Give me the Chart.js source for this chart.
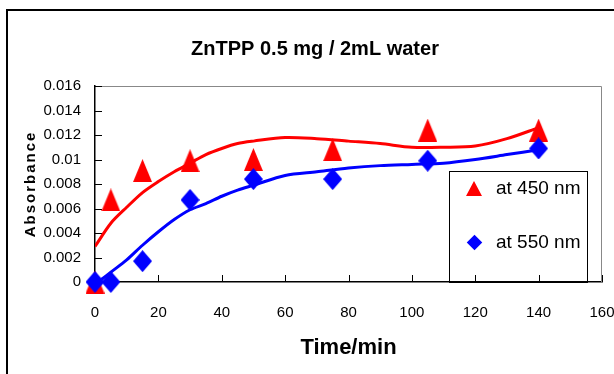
<!DOCTYPE html>
<html lang="en">
<head>
    <meta charset="UTF-8" />
    <title>ZnTPP 0.5 mg / 2mL water</title>
    <script src="https://cdn.jsdelivr.net/npm/chart.js"></script>
    <style>
        body { margin: 0; background: #fff; }
        .wrap { position: relative; width: 614px; height: 374px; overflow: hidden; }
        .frame { position: absolute; left: 6px; top: 9px; width: 700px; height: 500px; border: 2px solid #000; }
        canvas { position: absolute; left: 0; top: 0; }
        .legend { position: absolute; left: 449px; top: 171px; width: 137px; height: 110px; border: 1px solid #000;
                  font: 19px 'Liberation Sans', Arial, sans-serif; color: #000; }
        .legend span { position: absolute; left: 46px; line-height: 22px; white-space: nowrap; }
        .tri { position: absolute; left: 16px; top: 9px; width: 0; height: 0;
               border-left: 8px solid transparent; border-right: 8px solid transparent; border-bottom: 15px solid #ff0000; }
        .dia { position: absolute; left: 19px; top: 65px; width: 11px; height: 11px; background: #0000ff; transform: rotate(45deg); }
    </style>
</head>
<body>
<div class="wrap">
    <div class="frame"></div>
    <canvas id="chart" width="614" height="374"></canvas>
    <!-- legend box sits inside the plot, like the Excel original -->
    <div class="legend">
        <div class="tri"></div><span style="top:5px">at 450 nm</span>
        <div class="dia"></div><span style="top:59px">at 550 nm</span>
    </div>
</div>
<script>
    // measured points
    const timeMin = [0, 5, 15, 30, 50, 75, 105, 140];
    const abs450 = [0, 0.0067, 0.0091, 0.0099, 0.0100, 0.0108, 0.0124, 0.0124];
    const abs550 = [0, 0, 0.0017, 0.0067, 0.0084, 0.0084, 0.0099, 0.0109];

    // trend lines
    const fitTime450 = [0, 5, 10, 15, 20, 25, 30, 35, 40, 45, 50, 60, 70, 80, 90, 100, 110, 120, 130, 140];
    const fit450 = [0.0029, 0.0048, 0.0061, 0.0073, 0.0082, 0.0090, 0.0097, 0.0104, 0.0109, 0.0113, 0.0115,
                    0.0118, 0.0117, 0.0115, 0.0113, 0.0110, 0.0110, 0.0111, 0.0117, 0.0126];
    const fitTime550 = [2, 5, 10, 15, 20, 25, 30, 35, 40, 45, 50, 60, 70, 80, 90, 100, 110, 120, 130, 140];
    const fit550 = [0.0002, 0.0008, 0.0018, 0.0030, 0.0041, 0.0051, 0.0059, 0.0064, 0.0070, 0.0075, 0.0079,
                    0.0087, 0.0090, 0.0093, 0.0095, 0.0096, 0.0097, 0.0100, 0.0104, 0.0108];

    const yTickLabels = ['0', '0.002', '0.004', '0.006', '0.008', '0.01', '0.012', '0.014', '0.016'];

    const pairs = (xs, ys) => xs.map((x, i) => ({ x: x, y: ys[i] }));

    // Excel style markers are a bit taller than wide
    function makeMarker(kind, color, w, h) {
        const c = document.createElement('canvas');
        c.width = w; c.height = h;
        const g = c.getContext('2d');
        g.fillStyle = color;
        g.beginPath();
        if (kind === 'triangle') {
            g.moveTo(w / 2, 0); g.lineTo(w, h); g.lineTo(0, h);
        } else {
            g.moveTo(w / 2, 0); g.lineTo(w, h / 2); g.lineTo(w / 2, h); g.lineTo(0, h / 2);
        }
        g.closePath();
        g.fill();
        return c;
    }

    // gray top/right frame of the plot and small inward tick marks
    const plotDecor = {
        id: 'plotDecor',
        beforeDatasetsDraw(chart) {
            const { ctx, chartArea: a, scales } = chart;
            ctx.save();
            ctx.strokeStyle = '#888';
            ctx.lineWidth = 1;
            ctx.beginPath();
            ctx.moveTo(a.left, a.top + 0.5);
            ctx.lineTo(a.right - 0.5, a.top + 0.5);
            ctx.lineTo(a.right - 0.5, a.bottom);
            ctx.stroke();
            ctx.strokeStyle = '#000';
            ctx.beginPath();
            scales.x.ticks.forEach(t => {
                const px = Math.round(scales.x.getPixelForValue(t.value)) + 0.5;
                ctx.moveTo(px, a.bottom);
                ctx.lineTo(px, a.bottom - 7);
            });
            scales.y.ticks.forEach(t => {
                const py = Math.round(scales.y.getPixelForValue(t.value)) + 0.5;
                ctx.moveTo(a.left, py);
                ctx.lineTo(a.left + 7, py);
            });
            ctx.stroke();
            ctx.restore();
        },
        afterLayout(chart) {
            // spaced-out axis title
            const s = chart.scales.y;
            if (s._spaced) return;
            const orig = s.drawTitle.bind(s);
            s.drawTitle = function () {
                const c = this.ctx;
                c.save();
                c.letterSpacing = '2px';
                orig();
                c.restore();
            };
            s._spaced = true;
        }
    };

    Chart.defaults.font.family = "'Liberation Sans', Arial, sans-serif";
    Chart.defaults.color = '#000';

    new Chart(document.getElementById('chart'), {
        type: 'scatter',
        data: {
            datasets: [
                {
                    label: 'at 450 nm',
                    data: pairs(timeMin, abs450),
                    pointStyle: makeMarker('triangle', '#ff0000', 19, 23),
                    pointRadius: 10,
                    clip: false,
                    order: 1
                },
                {
                    label: 'at 550 nm',
                    data: pairs(timeMin, abs550),
                    pointStyle: makeMarker('diamond', '#0000ff', 19, 22),
                    pointRadius: 10,
                    clip: false,
                    order: 0
                },
                {
                    label: 'fit 450',
                    data: pairs(fitTime450, fit450),
                    showLine: true,
                    borderColor: '#ff0000',
                    borderWidth: 3,
                    pointRadius: 0,
                    tension: 0.3,
                    order: 2
                },
                {
                    label: 'fit 550',
                    data: pairs(fitTime550, fit550),
                    showLine: true,
                    borderColor: '#0000ff',
                    borderWidth: 3,
                    pointRadius: 0,
                    tension: 0.3,
                    order: 2
                }
            ]
        },
        options: {
            responsive: false,
            animation: false,
            layout: { padding: { left: 16, right: 0, top: 0, bottom: 0 } },
            plugins: {
                legend: { display: false },
                tooltip: { enabled: false },
                title: {
                    display: true,
                    text: 'ZnTPP 0.5 mg / 2mL water',
                    font: { size: 20, weight: 'bold' },
                    color: '#000',
                    padding: { top: 37, bottom: 25 }
                }
            },
            scales: {
                x: {
                    type: 'linear',
                    min: 0,
                    max: 160,
                    ticks: { stepSize: 20, padding: 22, font: { size: 15 } },
                    grid: { display: false, drawTicks: false },
                    border: { color: '#000', width: 1.5 },
                    title: {
                        display: true,
                        text: 'Time/min',
                        font: { size: 22, weight: 'bold' },
                        padding: { top: 0, bottom: 13 }
                    },
                    afterFit: s => { s.height = 92; s.paddingRight = 12; }
                },
                y: {
                    min: 0,
                    max: 0.016,
                    ticks: {
                        stepSize: 0.002,
                        padding: 14,
                        font: { size: 15 },
                        callback: (v, i) => yTickLabels[i]
                    },
                    grid: { display: false, drawTicks: false },
                    border: { color: '#000', width: 1.5 },
                    title: {
                        display: true,
                        text: 'Absorbance',
                        font: { size: 15, weight: 'bold' },
                        padding: { top: 6, bottom: 0 }
                    },
                    afterFit: s => { s.width = 79; }
                }
            }
        },
        plugins: [plotDecor]
    });
</script>
</body>
</html>
